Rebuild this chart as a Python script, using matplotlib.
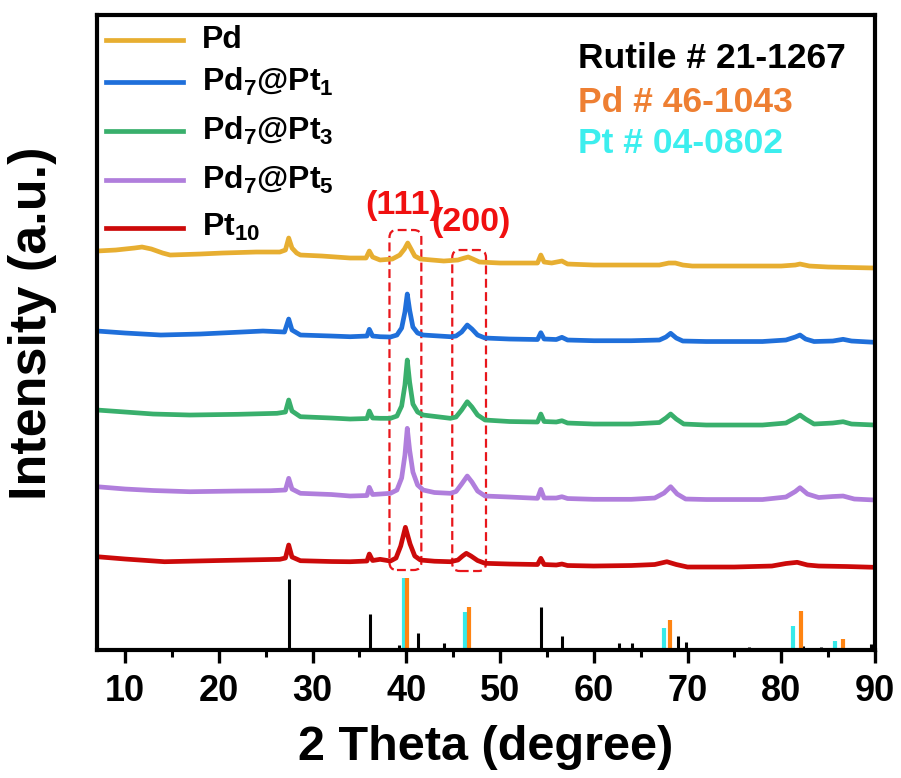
import numpy as np
import matplotlib
matplotlib.use("Agg")
import matplotlib.pyplot as plt
from matplotlib.patches import FancyBboxPatch
from matplotlib.ticker import MultipleLocator

plt.rcParams['font.family'] = ['Liberation Sans', 'DejaVu Sans']
plt.rcParams['font.weight'] = 'bold'
plt.rcParams['axes.labelweight'] = 'bold'
plt.rcParams['mathtext.default'] = 'regular'

# XRD patterns, stacked (2theta in degree, offset intensity in a.u.)
tt_pd = [7.0, 9.0, 11.0, 11.8, 12.8, 14.0, 14.8, 18, 20.4, 24, 26.5, 27.1, 27.45, 27.8, 28.3, 28.7,
         31, 34, 35.7, 36.05, 36.4, 37.2, 38.5, 39.3, 39.8, 40.15, 40.5, 40.9, 41.5, 44, 45.5,
         46.2, 46.6, 47.1, 47.8, 50, 54.0, 54.35, 54.7, 55.5, 56.6, 57.2, 60, 64, 67.0, 68.0,
         68.7, 69.5, 70.5, 75, 80, 81.5, 82, 83, 85, 90]
i_pd = [399, 400, 402, 403, 401, 397, 395, 396, 397, 398, 398, 400, 412, 402, 397, 395,
        394, 392, 392, 399, 393, 390, 391, 395, 401, 407, 401, 394, 391, 389, 390,
        392, 393, 391, 388, 387, 387, 395, 388, 387, 389, 386, 385, 385, 385, 387,
        387, 385, 384, 384, 384, 385, 386, 384, 383, 382]

tt_pt1 = [7.0, 10, 13.8, 18, 24.7, 27.0, 27.45, 27.8, 28.7, 32, 34, 35.8, 36.05, 36.4, 37.2, 38.3,
          39.0, 39.5, 39.85, 40.1, 40.35, 40.7, 41.2, 41.8, 44.7, 45.3, 45.9, 46.5, 47.0, 47.6,
          48.4, 51, 54.0, 54.35, 54.7, 56.0, 56.6, 57.2, 60, 64, 67.0, 67.7, 68.2, 68.8, 69.5,
          72, 78, 80.5, 81.5, 82.0, 82.6, 83.5, 85.5, 86.6, 87.5, 90]
i_pt1 = [319, 317, 315, 316, 319, 318, 331, 320, 315, 314, 313.3, 314, 320.7, 314, 313.3, 313,
         315, 322, 338, 356, 340, 323, 317, 315, 313.3, 314, 318, 325, 321, 315,
         312, 311, 310.5, 317.3, 311, 310.5, 312.7, 310, 309.3, 309.3, 310, 313, 316.7, 312, 309,
         308.5, 308.5, 310, 313, 315, 311, 308.5, 309, 310.7, 309, 307.7]

tt_pt3 = [7, 10, 13, 16.9, 22, 26.2, 27.1, 27.45, 27.8, 28.7, 32, 34, 35.8, 36.05, 36.4, 37.2,
          38.3, 39.0, 39.5, 39.85, 40.1, 40.35, 40.7, 41.2, 41.8, 44.7, 45.3, 45.9, 46.5, 47.0,
          47.6, 48.4, 51, 54.0, 54.35, 54.7, 56.0, 56.6, 57.2, 60, 64, 67.0, 67.7, 68.2, 68.8,
          69.6, 72, 78, 80.5, 81.5, 82.0, 82.6, 83.5, 85.5, 86.6, 87.5, 90]
i_pt3 = [240, 238, 236, 235, 235.7, 236.7, 238, 250, 239, 233.3, 232, 231, 231.5, 239, 232, 231.7,
         231.7, 234, 244, 265, 290, 268, 246, 238, 235, 231.7, 233, 240, 248.3, 243,
         235, 230, 228.5, 228, 236, 228.5, 228, 229.3, 227, 226, 226, 227.5, 232, 236, 231,
         226, 225, 225, 227, 232, 235, 231, 226, 227, 228.3, 226, 225]

tt_pt5 = [7, 10, 13, 16.9, 22, 25.5, 27.1, 27.45, 27.8, 28.7, 32, 34, 35.8, 36.05, 36.4, 37.2,
          38.3, 39.0, 39.5, 39.85, 40.1, 40.35, 40.7, 41.2, 41.8, 43, 44.7, 45.3, 45.9, 46.5,
          47.0, 47.6, 48.4, 51, 54.0, 54.35, 54.7, 56.0, 56.6, 57.2, 60, 64, 66.5, 67.5, 68.2,
          68.9, 69.8, 72, 78, 80.5, 81.5, 82.0, 82.8, 84, 85.5, 86.6, 87.8, 90]
i_pt5 = [163.3, 161, 159.5, 158.3, 159, 159.3, 160, 171.7, 161, 156.7, 155.5, 154, 154.5, 162.7, 155.5, 156,
         156.7, 160, 172, 195, 221.7, 200, 178, 165, 160, 157.5, 156.7, 158.5, 166, 174,
         168, 159, 154, 153, 151.7, 160.7, 152, 152, 153.3, 151.5, 150.7, 150.7, 152, 157, 163.3,
         156, 151, 150.5, 150.5, 153, 158.5, 162.3, 156, 152.5, 153.5, 154, 151, 150]

tt_pt10 = [7, 10, 14.2, 20, 26.5, 27.1, 27.45, 27.8, 28.7, 32, 34, 35.8, 36.05, 36.4, 37.2, 38.3,
           38.9, 39.4, 39.9, 40.4, 40.9, 41.5, 43, 44.7, 45.5, 46.0, 46.4, 46.9, 47.6, 48.4,
           51, 54.0, 54.35, 54.7, 56.0, 56.6, 57.2, 60, 64, 66.5, 67.8, 68.8, 70, 75, 79,
           80.5, 81.7, 82.8, 84, 87, 90]
i_pt10 = [93.3, 91, 88.3, 89.5, 90.7, 92, 105, 93, 89.3, 88.5, 88.3, 89, 96, 89.5, 90.7, 89,
          92, 104, 122.7, 106, 94, 90, 88.8, 88.3, 90, 94, 96.7, 94, 89.5, 86.7,
          86, 85.5, 91.7, 85.5, 85, 86, 84.5, 84, 84.5, 85.5, 88.3, 85.5, 83, 83, 84,
          86.5, 87.7, 85, 84, 83.5, 82.7]

names = [r'Pd', r'Pd$_7$@Pt$_1$', r'Pd$_7$@Pt$_3$', r'Pd$_7$@Pt$_5$', r'Pt$_{10}$']
colors = ['#E7AE31', '#1F6FDA', '#39AF6C', '#B07EDC', '#CC0A0A']

# standard cards (stick patterns)
rutile_pos = [27.45, 36.09, 39.19, 41.24, 44.05, 54.32, 56.64, 62.74, 64.04, 65.49, 69.01, 69.79,
              72.41, 74.41, 76.51, 79.82, 82.33, 84.26, 87.46, 89.56]
rutile_int = [71, 36, 5, 17, 7, 43, 14, 7, 7, 2, 14, 8, 1.5, 1, 3, 2, 4, 3, 2, 6]
pd_pos = [40.12, 46.66, 68.12, 82.10, 86.62]
pd_int = [72, 43, 30, 39, 11]
pt_pos = [39.76, 46.24, 67.45, 81.28, 85.71]
pt_int = [72, 38, 22, 24, 9]

fig = plt.figure(figsize=(9.01, 7.78), dpi=100)
ax = fig.add_axes([0.1077, 0.1645, 0.8634, 0.8162])

for tt, ii, c in zip([tt_pd, tt_pt1, tt_pt3, tt_pt5, tt_pt10],
                     [i_pd, i_pt1, i_pt3, i_pt5, i_pt10], colors):
    ax.plot(tt, ii, color=c, lw=3.4, solid_joinstyle='round')

ax.vlines(rutile_pos, 0, rutile_int, color='black', lw=2.2)
ax.vlines(pt_pos, 0, pt_int, color='#36EAEA', lw=3.0)
ax.vlines(pd_pos, 0, pd_int, color='#FF8412', lw=3.0)

# dashed boxes round the (111) and (200) reflections
for x0, x1, y0, y1 in [(38.2, 41.6, 80, 420), (44.9, 48.5, 79, 400)]:
    box = FancyBboxPatch((x0, y0), x1 - x0, y1 - y0,
                         boxstyle='round,pad=0,rounding_size=0.8', mutation_aspect=9.37,
                         fill=False, ec='#E8161B', lw=1.6, ls=(0, (4, 2)))
    ax.add_patch(box)
ax.text(39.7, 445, '(111)', color='#F01010', fontsize=24.5, ha='center', va='center')
ax.text(46.9, 428, '(200)', color='#F01010', fontsize=24.5, ha='center', va='center')

# legend drawn by hand
leg_y = [0.960, 0.895, 0.818, 0.740, 0.665]
for y, c, n in zip(leg_y, colors, names):
    ax.plot([0.012, 0.110], [y, y], color=c, lw=3.4, transform=ax.transAxes)
    ax.text(0.135, y, n, fontsize=23, ha='left', va='center', transform=ax.transAxes)

ax.text(0.618, 0.932, 'Rutile # 21-1267', color='black', fontsize=25.5, transform=ax.transAxes, va='center')
ax.text(0.618, 0.862, 'Pd # 46-1043', color='#EE7F32', fontsize=25.5, transform=ax.transAxes, va='center')
ax.text(0.618, 0.798, 'Pt # 04-0802', color='#3CEEEE', fontsize=25.5, transform=ax.transAxes, va='center')

ax.set_xlim(7, 90)
ax.set_ylim(0, 635)
ax.set_yticks([])
ax.xaxis.set_major_locator(MultipleLocator(10))
ax.xaxis.set_minor_locator(MultipleLocator(5))
ax.tick_params(axis='x', which='major', direction='out', length=9, width=2.4, labelsize=26, pad=8)
ax.tick_params(axis='x', which='minor', direction='out', length=5, width=2.2)
for s in ax.spines.values():
    s.set_linewidth(3.0)

ax.set_xlabel('2 Theta (degree)', fontsize=35, labelpad=12)
ax.set_ylabel('Intensity (a.u.)', fontsize=37.5)
ax.yaxis.set_label_coords(-0.051, 0.515)

fig.savefig('out.png', dpi=100)
